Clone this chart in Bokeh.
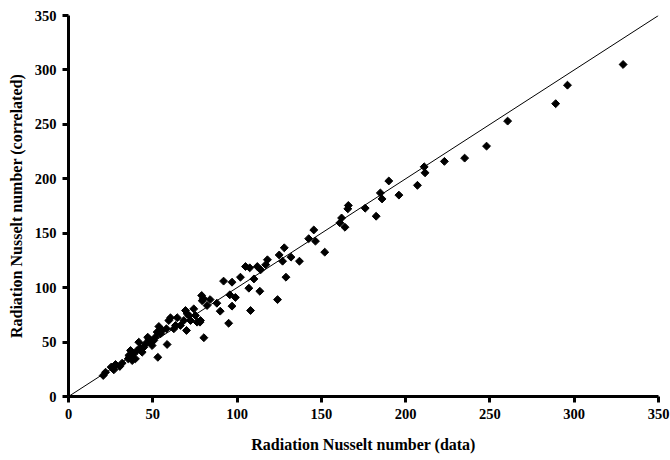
import math
from bokeh.plotting import figure
from bokeh.embed import file_html
from bokeh.resources import INLINE
from bokeh.models import ColumnDataSource, FixedTicker

nu_data = [20.6, 22, 25.3, 26.9, 27.9, 30.4, 31.8, 35.4, 35.8, 36.8, 36.8, 37.8, 38.7, 39.7, 40.7,
           41.7, 42.7, 43.7, 44.7, 45.7, 47, 47.6, 48.6, 49.6, 50.6, 51.6, 52.6, 53, 53.6, 54.6,
           55.6, 58.1, 58.5, 59.5, 60.5, 62.5, 63.5, 64.5, 66.4, 68.4, 69.4, 70, 70.4, 71.4, 72.4,
           74.3, 75.3, 76.3, 78.3, 78, 79, 79.3, 80.3, 80, 82.2, 84, 88, 90, 92, 95.7, 95, 97, 97,
           99, 102, 107, 108, 110, 113.5, 105, 107.5, 112, 114, 117, 118, 124, 125, 127, 128, 129,
           132, 137, 142.5, 145.5, 146.5, 152, 161, 162, 164, 165.7, 166, 176, 182.5, 185, 186,
           190, 196, 207, 211, 211.5, 223, 235, 248, 260.5, 289, 296, 329]
nu_corr = [19.3, 22.3, 27, 24.5, 29.4, 27.6, 30.6, 34.6, 37.7, 38.6, 42.3, 33, 39.2, 34.6, 42.3,
           49.9, 44.7, 40.7, 45.3, 48.4, 54.5, 53, 50, 46.8, 51.5, 54.6, 59.2, 36, 64.3, 57.6,
           60.7, 62.2, 47.8, 69.8, 72.3, 62.2, 65.3, 72.4, 65.3, 69.8, 79, 60.7, 76, 74.4, 69.8,
           80.5, 74.4, 68.3, 69.8, 68.3, 92.8, 88, 54, 90, 83.6, 89, 85.7, 78.4, 106, 93.4, 67.3, 83,
           105, 91, 109.6, 99.5, 79, 108, 96.7, 119.4, 118.2, 119.4, 116.4, 121, 125.6, 89, 130,
           124.3, 136.6, 109.6, 128, 124.3, 145, 153, 142.7, 132.6, 159.5, 164, 155.5, 172.4, 175.5,
           173, 165.6, 187, 181.5, 198, 185, 194, 211, 205.5, 216, 219, 230, 253, 269, 286, 305]
parity = [0, 350]
ticks = [0, 50, 100, 150, 200, 250, 300, 350]

p = figure(width=670, height=460, x_range=(0, 350), y_range=(0, 350),
           output_backend="svg", toolbar_location=None,
           min_border_left=68, min_border_right=12, min_border_top=15, min_border_bottom=64)
p.outline_line_color = None
p.xgrid.visible = False
p.ygrid.visible = False
p.background_fill_color = "white"
p.border_fill_color = "white"

p.line(parity, parity, line_color="black", line_width=1)
src = ColumnDataSource(dict(x=nu_data, y=nu_corr))
p.scatter("x", "y", source=src, marker="square", angle=math.pi / 4, size=5.6,
          fill_color="black", line_color="black", line_width=1)

for ax in (p.xaxis[0], p.yaxis[0]):
    ax.ticker = FixedTicker(ticks=ticks)
    ax.axis_line_width = 3
    ax.axis_line_color = "black"
    ax.major_tick_line_width = 3
    ax.major_tick_line_color = "black"
    ax.major_tick_out = 6
    ax.major_tick_in = 0
    ax.minor_tick_line_color = None
    ax.major_label_text_font = "Liberation Serif"
    ax.major_label_text_font_style = "bold"
    ax.major_label_text_font_size = "14.5px"
    ax.major_label_text_color = "black"
    ax.axis_label_text_font = "Liberation Serif"
    ax.axis_label_text_font_style = "bold"
    ax.axis_label_text_font_size = "16px"
    ax.axis_label_text_color = "black"

p.xaxis.axis_label = "Radiation Nusselt number (data)"
p.yaxis.axis_label = "Radiation Nusselt number (correlated)"
p.xaxis.major_label_standoff = 6
p.yaxis.major_label_standoff = 6
p.xaxis.axis_label_standoff = 14
p.yaxis.axis_label_standoff = 7

open("out.html", "w").write(file_html(p, INLINE))
